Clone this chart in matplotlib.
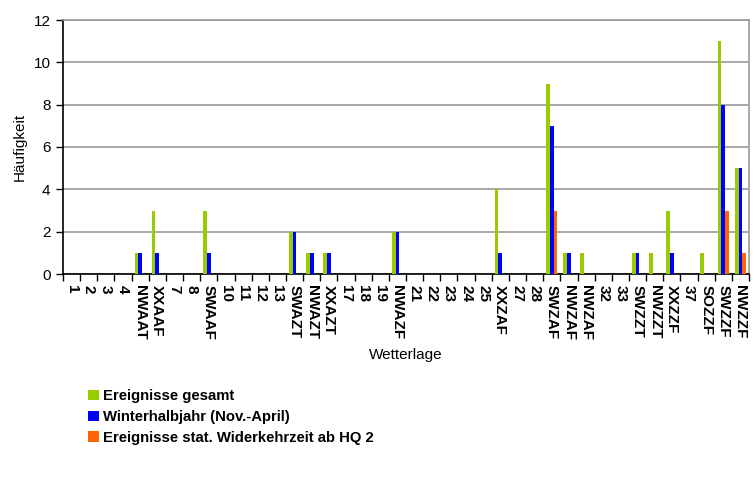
import numpy as np
import matplotlib
matplotlib.use("Agg")
import matplotlib.pyplot as plt
from matplotlib.ticker import FixedLocator

plt.rcParams['font.family'] = ['Liberation Sans', 'DejaVu Sans']

# Wetterlagen (x axis categories)
lagen = ["1", "2", "3", "4", "NWAAT", "XXAAF", "7", "8", "SWAAF", "10",
         "11", "12", "13", "SWAZT", "NWAZT", "XXAZT", "17", "18", "19", "NWAZF",
         "21", "22", "23", "24", "25", "XXZAF", "27", "28", "SWZAF", "NWZAF",
         "NWZAF", "32", "33", "SWZZT", "NWZZT", "XXZZF", "37", "SOZZF", "SWZZF", "NWZZF"]

gesamt = [0, 0, 0, 0, 1, 3, 0, 0, 3, 0,
          0, 0, 0, 2, 1, 1, 0, 0, 0, 2,
          0, 0, 0, 0, 0, 4, 0, 0, 9, 1,
          1, 0, 0, 1, 1, 3, 0, 1, 11, 5]
winter = [0, 0, 0, 0, 1, 1, 0, 0, 1, 0,
          0, 0, 0, 2, 1, 1, 0, 0, 0, 2,
          0, 0, 0, 0, 0, 1, 0, 0, 7, 1,
          0, 0, 0, 1, 0, 1, 0, 0, 8, 5]
hq2 = [0, 0, 0, 0, 0, 0, 0, 0, 0, 0,
       0, 0, 0, 0, 0, 0, 0, 0, 0, 0,
       0, 0, 0, 0, 0, 0, 0, 0, 3, 0,
       0, 0, 0, 0, 0, 0, 0, 0, 3, 1]

namen = ["Ereignisse gesamt", "Winterhalbjahr (Nov.-April)",
         "Ereignisse stat. Widerkehrzeit ab HQ 2"]
farben = ["#99cc00", "#0000ff", "#ff6600"]

fig = plt.figure(figsize=(7.55, 4.78), dpi=100)
ax = fig.add_axes([63/755, 1-274/478, (749-63)/755, (274-20)/478])

x = np.arange(len(lagen))
w = 0.22
for k, (vals, name, col) in enumerate(zip([gesamt, winter, hq2], namen, farben)):
    ax.bar(x + (k-1)*w, vals, width=w, color=col, label=name, zorder=3)

ax.set_xlim(-0.5, len(lagen)-0.5)
ax.set_ylim(0, 12)
ax.set_yticks(range(0, 13, 2))
ax.yaxis.grid(True, color="#999999", linewidth=1.2, zorder=0)
ax.set_xticks(x)
ax.set_xticklabels(lagen, rotation=-90, fontsize=11, fontweight='bold')
ax.xaxis.set_minor_locator(FixedLocator(np.arange(-0.5, len(lagen), 1)))
ax.tick_params(axis='x', which='major', length=0, pad=8)
ax.tick_params(axis='x', which='minor', length=5, width=1, direction='out')
ax.tick_params(axis='y', length=5, width=1, labelsize=11, pad=4)

for s in ["top", "right"]:
    ax.spines[s].set_color("#999999")
    ax.spines[s].set_linewidth(1.2)
for s in ["left", "bottom"]:
    ax.spines[s].set_color("black")
    ax.spines[s].set_linewidth(1.2)

ax.set_ylabel("Häufigkeit", fontsize=11, labelpad=5)
ax.set_xlabel("Wetterlage", fontsize=11, labelpad=6)

fig.legend(loc='upper left', bbox_to_anchor=(75/755, 1-376/478), frameon=False,
           prop={'weight': 'bold', 'size': 10.7}, handlelength=0.7, handleheight=0.7,
           handletextpad=0.3, labelspacing=0.45)

fig.savefig("out.png", dpi=100)
